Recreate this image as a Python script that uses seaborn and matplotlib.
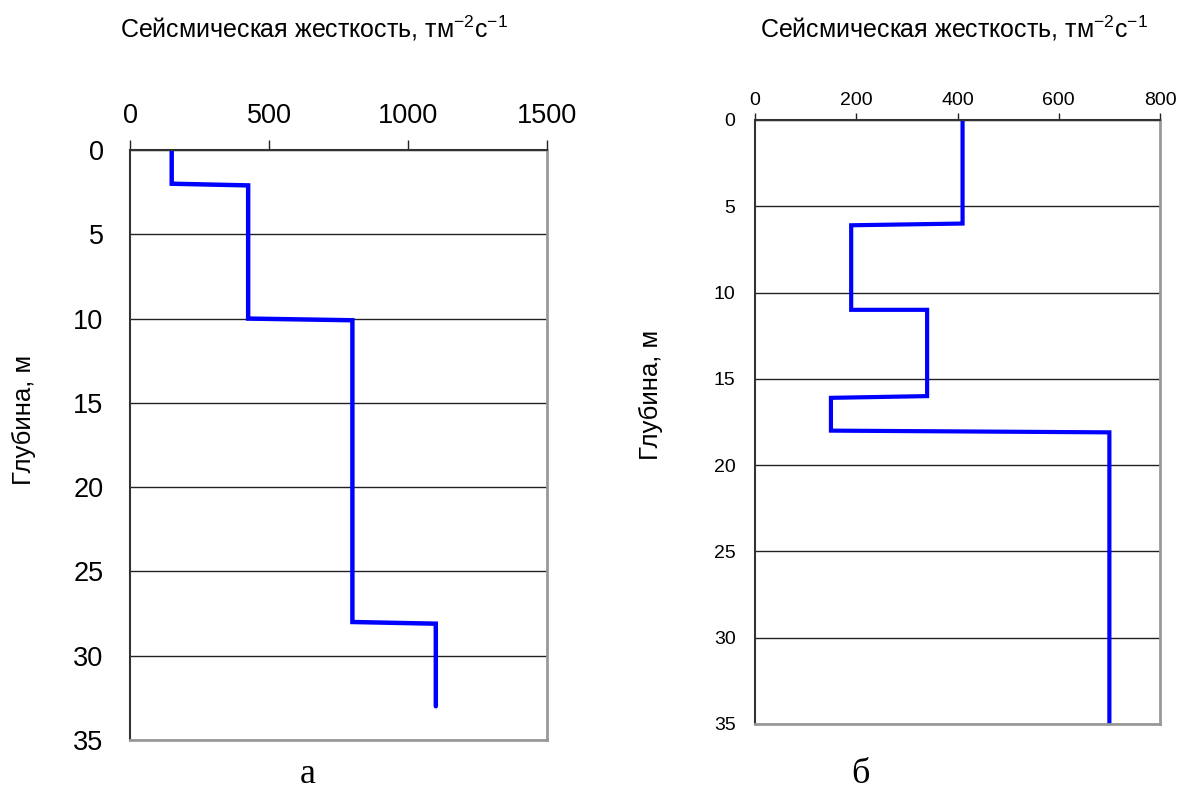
import matplotlib
matplotlib.use("Agg")
import matplotlib.pyplot as plt
import seaborn as sns
import pandas as pd

# Profile (а): seismic stiffness vs depth
stiff_a = [150, 150, 425, 425, 800, 800, 1100, 1100]
depth_a = [0, 2, 2.1, 10, 10.1, 28, 28.1, 33]
xticks_a = [0, 500, 1000, 1500]
yticks_a = [0, 5, 10, 15, 20, 25, 30, 35]

# Profile (б)
stiff_b = [410, 410, 190, 190, 340, 340, 150, 150, 700, 700]
depth_b = [0, 6, 6.1, 11, 11, 16, 16.1, 18, 18.1, 35]
xticks_b = [0, 200, 400, 600, 800]
yticks_b = [0, 5, 10, 15, 20, 25, 30, 35]

title_text = "Сейсмическая жесткость, тм$^{-2}$с$^{-1}$"
ylabel_text = "Глубина, м"
panel_labels = ["а", "б"]

sns.set_theme(style="white")
plt.rcParams["font.family"] = ["Liberation Sans", "DejaVu Sans"]
plt.rcParams["text.color"] = "black"
plt.rcParams["mathtext.fontset"] = "custom"
plt.rcParams["mathtext.rm"] = "Liberation Sans"
plt.rcParams["mathtext.it"] = "Liberation Sans"
plt.rcParams["mathtext.default"] = "regular"

W, H = 1179, 792
fig = plt.figure(figsize=(W / 100, H / 100), dpi=100)
ax_a = fig.add_axes([130 / W, 1 - 740 / H, 417 / W, 590 / H])
ax_b = fig.add_axes([755 / W, 1 - 724 / H, 405 / W, 604 / H])


def style_axis(ax, xticks, yticks, tick_fs, tick_len, xpad, ypad):
    ax.set_xlim(xticks[0], xticks[-1])
    ax.set_ylim(yticks[-1], yticks[0])
    ax.xaxis.tick_top()
    ax.set_xticks(xticks)
    ax.set_yticks(yticks)
    ax.tick_params(axis="both", direction="out", length=tick_len, width=1.0,
                   color="#222222", labelsize=tick_fs, labelcolor="black")
    ax.tick_params(axis="x", pad=xpad)
    ax.tick_params(axis="y", pad=ypad)
    ax.yaxis.grid(True, color="#222222", linewidth=1.0)
    ax.xaxis.grid(False)
    ax.set_axisbelow(True)
    for side in ("left", "top"):
        ax.spines[side].set_color("#333333")
        ax.spines[side].set_linewidth(1.5)
    for side in ("right", "bottom"):
        ax.spines[side].set_color("#999999")
        ax.spines[side].set_linewidth(2.0)
    ax.set_xlabel("")
    ax.set_ylabel("")


df_a = pd.DataFrame({"stiffness": stiff_a, "depth": depth_a})
df_b = pd.DataFrame({"stiffness": stiff_b, "depth": depth_b})

sns.lineplot(data=df_a, x="stiffness", y="depth", sort=False, estimator=None,
             color="#0000FF", linewidth=3.2, ax=ax_a,
             solid_capstyle="round", solid_joinstyle="miter")
sns.lineplot(data=df_b, x="stiffness", y="depth", sort=False, estimator=None,
             color="#0000FF", linewidth=3.0, ax=ax_b,
             solid_capstyle="butt", solid_joinstyle="miter")

style_axis(ax_a, xticks_a, yticks_a, 19.5, 7, 8, 12)
style_axis(ax_b, xticks_b, yticks_b, 14, 5, 3, 9)

# Titles above each panel
fig.text(314 / W, 1 - 28 / H, title_text, ha="center", va="center", fontsize=18)
fig.text(954 / W, 1 - 28 / H, title_text, ha="center", va="center", fontsize=18)

# Depth labels
fig.text(24 / W, 1 - 420 / H, ylabel_text, rotation=90, ha="center", va="center", fontsize=18.5)
fig.text(651 / W, 1 - 395 / H, ylabel_text, rotation=90, ha="center", va="center", fontsize=18.5)

# Panel letters
fig.text(308 / W, 1 - 783 / H, panel_labels[0], ha="center", va="baseline",
         fontsize=26, family=["Liberation Serif", "DejaVu Serif"])
fig.text(860 / W, 1 - 783 / H, panel_labels[1], ha="center", va="baseline",
         fontsize=26, family=["Liberation Serif", "DejaVu Serif"])

fig.savefig("out.png", dpi=100, facecolor="white")
